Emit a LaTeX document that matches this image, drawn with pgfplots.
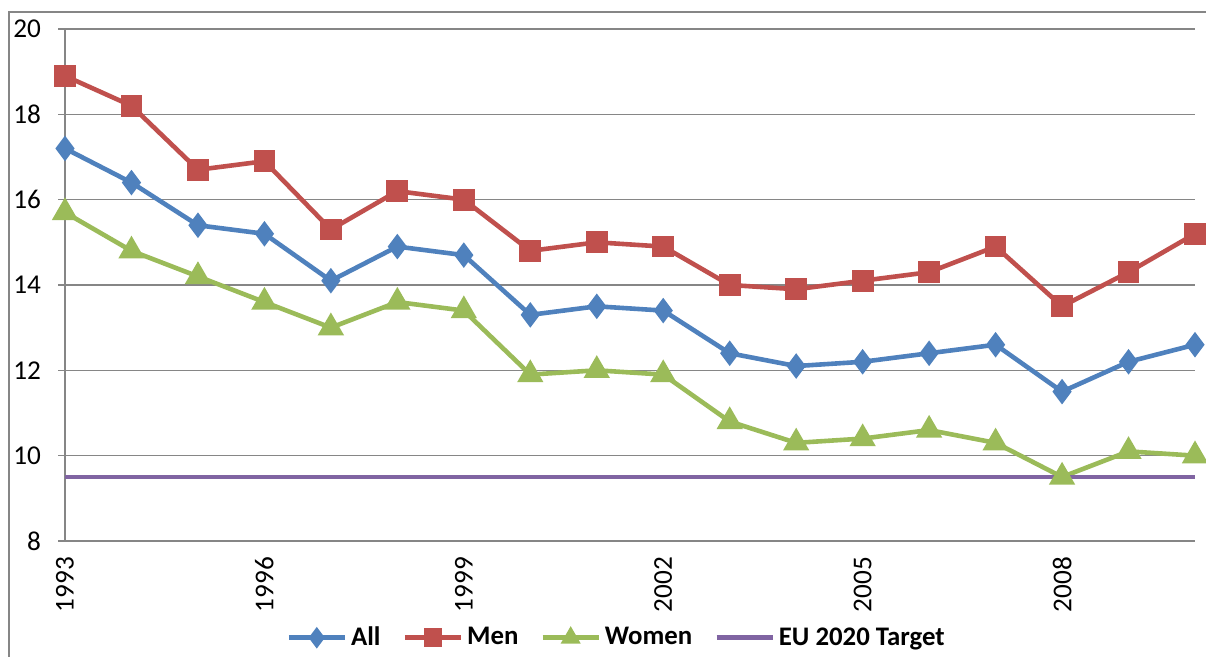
\documentclass[border=0pt]{standalone}
\usepackage{pgfplots}
\pgfplotsset{compat=1.18}
\usepackage{fontspec}
\setmainfont{Carlito}
\definecolor{cAll}{HTML}{4F81BD}
\definecolor{cMen}{HTML}{C0504D}
\definecolor{cWomen}{HTML}{9BBB59}
\definecolor{cEU}{HTML}{8064A2}
\definecolor{gridc}{HTML}{868686}
\begin{document}
\begin{tikzpicture}
\useasboundingbox (0,0) rectangle (603pt,328.5pt);
\draw[gridc, line width=0.8pt] (4.5pt,-2pt) -- (4.5pt,322.5pt) -- (605pt,322.5pt);
\begin{axis}[
  at={(32.5pt,58pt)}, anchor=south west,
  scale only axis, width=565pt, height=256pt,
  xmin=1993, xmax=2010, ymin=8, ymax=20,
  xtick={1993,1996,1999,2002,2005,2008},
  ytick={8,10,...,20},
  axis x line*=bottom, axis y line*=left,
  axis line style={gridc, line width=0.6pt, -},
  ymajorgrids, grid style={gridc, line width=0.6pt},
  y tick style={gridc, line width=0.6pt}, tick align=outside, major tick length=3.5pt,
  x tick style={draw=none},
  /pgf/number format/assume math mode=true,
  /pgf/number format/1000 sep={},
  tick label style={font=\fontsize{13.6}{15}\selectfont},
  xticklabel style={rotate=90, anchor=east, yshift=0pt, xshift=-1pt},
  yticklabel style={xshift=-5pt},
  clip=false,
  legend columns=4,
  legend style={draw=none, fill=none, at={(0.489,-0.189)}, anchor=center,
    font=\bfseries\fontsize{13.4}{15}\selectfont, /tikz/every even column/.append style={column sep=9pt}},
  legend image code/.code={\draw[mark repeat=2,mark phase=2,#1,mark size=3.5pt] plot coordinates {(0pt,0pt)(14pt,0pt)(28pt,0pt)};},
  every axis plot/.append style={line width=2.3pt, mark options={solid}},
]
\addplot[cAll, mark=diamond*, mark size=4.5pt] coordinates {
(1993,17.2)(1994,16.4)(1995,15.4)(1996,15.2)(1997,14.1)(1998,14.9)(1999,14.7)(2000,13.3)(2001,13.5)(2002,13.4)(2003,12.4)(2004,12.1)(2005,12.2)(2006,12.4)(2007,12.6)(2008,11.5)(2009,12.2)(2010,12.6)};
\addlegendentry{All}
\addplot[cMen, mark=square*, mark size=4.3pt] coordinates {
(1993,18.9)(1994,18.2)(1995,16.7)(1996,16.9)(1997,15.3)(1998,16.2)(1999,16.0)(2000,14.8)(2001,15.0)(2002,14.9)(2003,14.0)(2004,13.9)(2005,14.1)(2006,14.3)(2007,14.9)(2008,13.5)(2009,14.3)(2010,15.2)};
\addlegendentry{Men}
\addplot[cWomen, mark=triangle*, mark size=5.3pt] coordinates {
(1993,15.7)(1994,14.8)(1995,14.2)(1996,13.6)(1997,13.0)(1998,13.6)(1999,13.4)(2000,11.9)(2001,12.0)(2002,11.9)(2003,10.8)(2004,10.3)(2005,10.4)(2006,10.6)(2007,10.3)(2008,9.5)(2009,10.1)(2010,10.0)};
\addlegendentry{Women}
\addplot[cEU, no marks] coordinates {
(1993,9.5)(1994,9.5)(1995,9.5)(1996,9.5)(1997,9.5)(1998,9.5)(1999,9.5)(2000,9.5)(2001,9.5)(2002,9.5)(2003,9.5)(2004,9.5)(2005,9.5)(2006,9.5)(2007,9.5)(2008,9.5)(2009,9.5)(2010,9.5)};
\addlegendentry{EU 2020 Target}
\end{axis}
\end{tikzpicture}
\end{document}
